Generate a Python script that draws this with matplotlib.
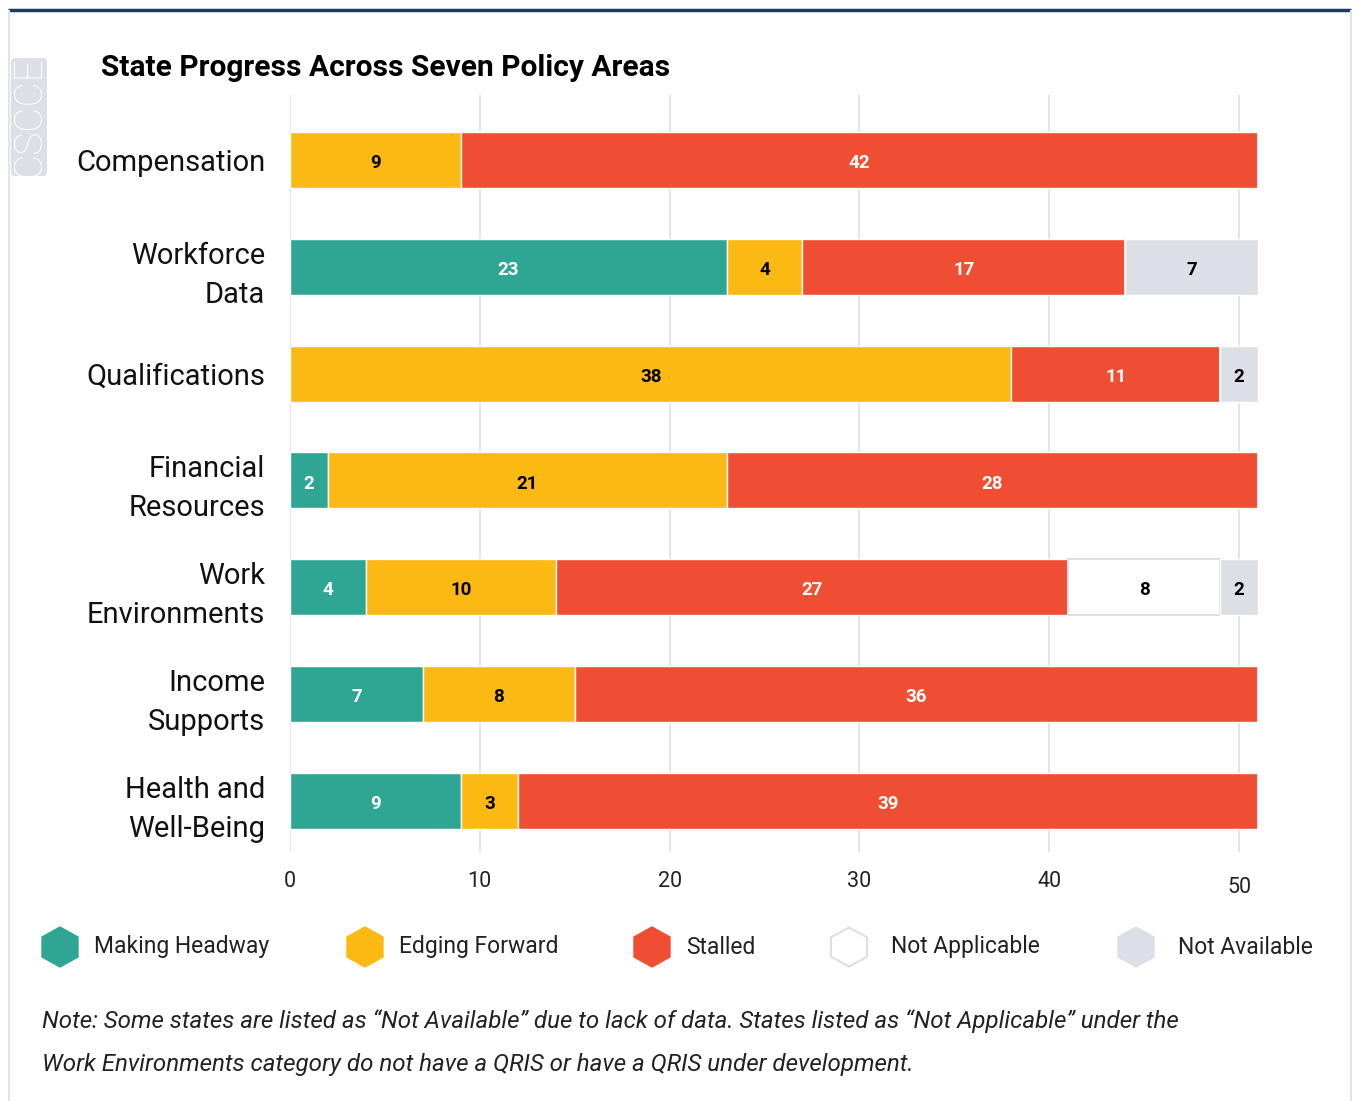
import matplotlib
matplotlib.use("Agg")
import matplotlib.pyplot as plt
from matplotlib.patches import Polygon, FancyBboxPatch
import numpy as np

plt.rcParams['font.family'] = ['Roboto', 'DejaVu Sans']

categories = ["Compensation", "Workforce\nData", "Qualifications", "Financial\nResources",
              "Work\nEnvironments", "Income\nSupports", "Health and\nWell-Being"]
series_names = ["Making Headway", "Edging Forward", "Stalled", "Not Applicable", "Not Available"]
making_headway = [0, 23, 0, 2, 4, 7, 9]
edging_forward = [9, 4, 38, 21, 10, 8, 3]
stalled = [42, 17, 11, 28, 27, 36, 39]
not_applicable = [0, 0, 0, 0, 8, 0, 0]
not_available = [0, 7, 2, 0, 2, 0, 0]
x_ticks = [0, 10, 20, 30, 40, 50]

series = [making_headway, edging_forward, stalled, not_applicable, not_available]
colors = ["#2FA693", "#FDB913", "#F04E33", "#FFFFFF", "#DCDFE6"]
edgecolors = ["white", "white", "white", "#DCDFE6", "white"]
text_colors = ["white", "black", "white", "black", "black"]

W, H = 1353, 1101
fig = plt.figure(figsize=(W / 100, H / 100), dpi=100)

# overlay axes in pixel coordinates for decorations
ov = fig.add_axes([0, 0, 1, 1], zorder=0)
ov.set_xlim(0, W)
ov.set_ylim(H, 0)
ov.axis("off")

# card border
ov.plot([8, 1351], [9.5, 9.5], color="#1F3A60", lw=2.5, solid_capstyle="butt")
ov.plot([8.5, 8.5], [11, H], color="#E1E4EA", lw=1.5)
ov.plot([1350.5, 1350.5], [11, H], color="#E1E4EA", lw=1.5)

# CSCCE tag
tag = FancyBboxPatch((11, 58), 36, 118, boxstyle="round,pad=0,rounding_size=4",
                     fc="#DCDFE6", ec="none")
ov.add_patch(tag)
ov.text(29.5, 117, "CSCCE", rotation=90, ha="center", va="center", color="white",
        fontsize=28, fontweight="light")

# title
ov.text(101, 68, "State Progress Across Seven Policy Areas", ha="left", va="center",
        fontsize=21.5, fontweight="bold", color="black")

# main axes
x0, x1 = 290, 1258
y0, y1 = 95, 852
ax = fig.add_axes([x0 / W, (H - y1) / H, (x1 - x0) / W, (y1 - y0) / H], zorder=1)
ax.patch.set_alpha(0)
ypos = np.arange(len(categories))
bh = 0.525
left = np.zeros(len(categories))
for vals, c, ec, tc in zip(series, colors, edgecolors, text_colors):
    vals = np.array(vals, dtype=float)
    lw = 1.5 if ec != "white" else 1.0
    ax.barh(ypos, vals, left=left, height=bh, color=c, edgecolor=ec, linewidth=lw, zorder=3)
    for i, v in enumerate(vals):
        if v > 0:
            ax.text(left[i] + v / 2, ypos[i] + 0.03, f"{int(v)}", ha="center", va="center",
                    color=tc, fontsize=13.5, fontweight="bold", zorder=4)
    left += vals

ax.set_xlim(0, 51)
ax.set_ylim(6.48, -0.61)
ax.set_xticks(x_ticks)
ax.set_xticklabels([str(t) for t in x_ticks])
ax.set_yticks(ypos)
ax.set_yticklabels(categories)
for lab in ax.get_yticklabels():
    lab.set_linespacing(1.5)
ax.tick_params(axis="x", length=0, pad=14, labelsize=15.5, labelcolor="#222222")
ax.tick_params(axis="y", length=0, pad=18, labelsize=21, labelcolor="#111111")
ax.xaxis.get_major_ticks()[-1].set_pad(18)
ax.grid(axis="x", color="#E3E5EC", lw=1.5, zorder=0)
ax.set_axisbelow(True)
for s in ax.spines.values():
    s.set_visible(False)

# legend with hexagons
def hexagon(cx, cy, w, h):
    return [(cx, cy - h / 2), (cx + w / 2, cy - h / 4), (cx + w / 2, cy + h / 4),
            (cx, cy + h / 2), (cx - w / 2, cy + h / 4), (cx - w / 2, cy - h / 4)]

hex_x = [60, 365, 652, 849, 1136]
text_x = [94, 399, 686, 891, 1178]
ly = 947
for hx, tx, name, c, ec in zip(hex_x, text_x, series_names, colors, edgecolors):
    if ec == "white":
        p = Polygon(hexagon(hx, ly, 36, 40), closed=True, fc=c, ec=c, lw=1, joinstyle="round")
    else:
        p = Polygon(hexagon(hx, ly, 36, 39), closed=True, fc=c, ec=ec, lw=1.5, joinstyle="round")
    ov.add_patch(p)
    ov.text(tx, ly, name, ha="left", va="center", fontsize=16.5, color="#222222")

# note
ov.text(42, 1021, "Note: Some states are listed as \u201cNot Available\u201d due to lack of data. "
        "States listed as \u201cNot Applicable\u201d under the",
        ha="left", va="center", fontsize=17.4, style="italic", color="#222222")
ov.text(42, 1064, "Work Environments category do not have a QRIS or have a QRIS under development.",
        ha="left", va="center", fontsize=17.4, style="italic", color="#222222")

fig.savefig("out.png", dpi=100)
